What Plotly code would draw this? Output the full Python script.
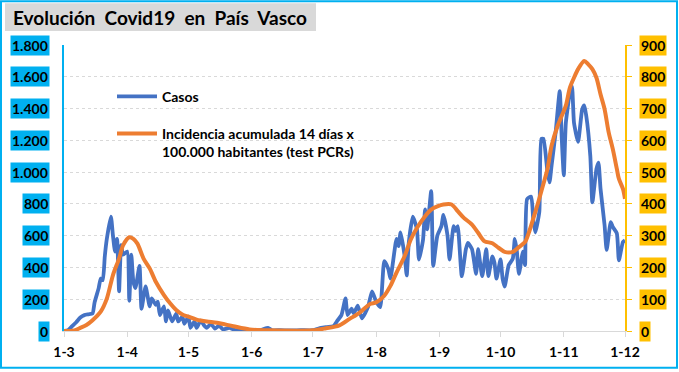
import plotly.graph_objects as go

# ---------------- data ----------------
casos_fechas = [
    "2020-03-01", "2020-03-03", "2020-03-05", "2020-03-07", "2020-03-09", "2020-03-11", "2020-03-13",
    "2020-03-15", "2020-03-16", "2020-03-18", "2020-03-19", "2020-03-20", "2020-03-21", "2020-03-22",
    "2020-03-24", "2020-03-25", "2020-03-26", "2020-03-27", "2020-03-28", "2020-03-29", "2020-03-30",
    "2020-04-01", "2020-04-02", "2020-04-03", "2020-04-04", "2020-04-05", "2020-04-07", "2020-04-08",
    "2020-04-10", "2020-04-12", "2020-04-13", "2020-04-15", "2020-04-16", "2020-04-17", "2020-04-19",
    "2020-04-20", "2020-04-21", "2020-04-23", "2020-04-25", "2020-04-26", "2020-04-28", "2020-04-29",
    "2020-05-01", "2020-05-02", "2020-05-04", "2020-05-05", "2020-05-07", "2020-05-09", "2020-05-10",
    "2020-05-12", "2020-05-14", "2020-05-16", "2020-05-18", "2020-05-21", "2020-05-24", "2020-05-28",
    "2020-06-01", "2020-06-05", "2020-06-09", "2020-06-11", "2020-06-15", "2020-06-20", "2020-06-25",
    "2020-07-01", "2020-07-05", "2020-07-08", "2020-07-11", "2020-07-13", "2020-07-15", "2020-07-17",
    "2020-07-18", "2020-07-20", "2020-07-21", "2020-07-23", "2020-07-25", "2020-07-28", "2020-07-30",
    "2020-08-01", "2020-08-03", "2020-08-05", "2020-08-07", "2020-08-08", "2020-08-11", "2020-08-12",
    "2020-08-13", "2020-08-15", "2020-08-16", "2020-08-17", "2020-08-19", "2020-08-21", "2020-08-22",
    "2020-08-24", "2020-08-25", "2020-08-26", "2020-08-28", "2020-08-29", "2020-08-31", "2020-09-02",
    "2020-09-03", "2020-09-05", "2020-09-06", "2020-09-08", "2020-09-09", "2020-09-10", "2020-09-12",
    "2020-09-14", "2020-09-15", "2020-09-17", "2020-09-19", "2020-09-20", "2020-09-22", "2020-09-24",
    "2020-09-25", "2020-09-27", "2020-09-28", "2020-09-29", "2020-10-01", "2020-10-02", "2020-10-03",
    "2020-10-05", "2020-10-07", "2020-10-08", "2020-10-09", "2020-10-10", "2020-10-12", "2020-10-13",
    "2020-10-14", "2020-10-16", "2020-10-17", "2020-10-18", "2020-10-20", "2020-10-21", "2020-10-22",
    "2020-10-24", "2020-10-25", "2020-10-26", "2020-10-28", "2020-10-30", "2020-10-31", "2020-11-01",
    "2020-11-02", "2020-11-04", "2020-11-05", "2020-11-06", "2020-11-08", "2020-11-10", "2020-11-11",
    "2020-11-12", "2020-11-14", "2020-11-15", "2020-11-17", "2020-11-18", "2020-11-19", "2020-11-21",
    "2020-11-22", "2020-11-24", "2020-11-25", "2020-11-27", "2020-11-28", "2020-11-30", "2020-12-01",
]
casos_valores = [
    0, 5, 30, 55, 85, 100, 105,
    110, 180, 270, 330, 320, 470, 580,
    720, 600, 500, 580, 250, 540, 480,
    500, 190, 480, 310, 270, 410, 140,
    280, 155, 205, 165, 185, 100, 155,
    60, 130, 60, 110, 60, 90, 45,
    90, 20, 60, 20, 65, 30, 20,
    45, 15, 35, 10, 20, 5, 10,
    3, 5, 20, 5, 5, 3, 5,
    5, 20, 25, 30, 65, 100, 205,
    100, 140, 110, 160, 80, 150, 250,
    185, 150, 440, 390, 330, 580, 535,
    620, 470, 350, 555, 720, 640, 450,
    575, 765, 640, 880, 410, 600, 660,
    730, 600, 450, 660, 630, 660, 345,
    515, 555, 515, 360, 515, 345, 515,
    345, 470, 430, 330, 450, 330, 280,
    415, 455, 580, 500, 360, 500, 415,
    830, 845, 705, 620, 750, 1210, 1210,
    1000, 935, 1040, 1250, 1510, 1210, 980,
    1310, 1500, 1540, 1310, 1190, 1395, 1420,
    1355, 1100, 810, 1020, 1060, 895, 665,
    510, 685, 655, 615, 445, 560, 570,
]

incidencia_fechas = [
    "2020-03-01", "2020-03-06", "2020-03-09", "2020-03-12", "2020-03-15", "2020-03-19", "2020-03-22",
    "2020-03-25", "2020-03-28", "2020-03-30", "2020-04-02", "2020-04-04", "2020-04-06", "2020-04-09",
    "2020-04-12", "2020-04-15", "2020-04-19", "2020-04-22", "2020-04-25", "2020-04-28", "2020-05-01",
    "2020-05-05", "2020-05-10", "2020-05-15", "2020-05-23", "2020-05-31", "2020-06-10", "2020-07-01",
    "2020-07-07", "2020-07-14", "2020-07-19", "2020-07-24", "2020-07-29", "2020-08-01", "2020-08-05",
    "2020-08-08", "2020-08-11", "2020-08-15", "2020-08-18", "2020-08-21", "2020-08-25", "2020-08-28",
    "2020-08-31", "2020-09-03", "2020-09-07", "2020-09-10", "2020-09-13", "2020-09-17", "2020-09-20",
    "2020-09-23", "2020-09-27", "2020-09-30", "2020-10-03", "2020-10-07", "2020-10-10", "2020-10-13",
    "2020-10-15", "2020-10-17", "2020-10-19", "2020-10-21", "2020-10-24", "2020-10-26", "2020-10-29",
    "2020-10-31", "2020-11-02", "2020-11-04", "2020-11-06", "2020-11-08", "2020-11-11", "2020-11-13",
    "2020-11-15", "2020-11-17", "2020-11-19", "2020-11-21", "2020-11-23", "2020-11-25", "2020-11-27",
    "2020-11-28", "2020-11-30", "2020-12-01",
]
incidencia_valores = [
    0, 2, 10, 19, 34, 61, 102,
    176, 228, 270, 295, 290, 275, 228,
    197, 155, 113, 87, 66, 52, 45,
    36, 30, 26, 15, 5, 2, 2,
    8, 18, 38, 58, 85, 90, 111,
    142, 184, 236, 288, 324, 361, 382,
    392, 398, 398, 377, 356, 335, 309,
    283, 276, 262, 249, 249, 264, 280,
    312, 353, 395, 440, 510, 583, 646,
    677, 709, 766, 797, 824, 850, 839,
    824, 797, 745, 698, 625, 573, 510,
    479, 447, 416,
]

x_ticks = ["2020-03-01", "2020-04-01", "2020-05-01", "2020-06-01", "2020-07-01",
           "2020-08-01", "2020-09-01", "2020-10-01", "2020-11-01", "2020-12-01"]
x_tick_labels = ["1-3", "1-4", "1-5", "1-6", "1-7", "1-8", "1-9", "1-10", "1-11", "1-12"]
y_left_ticks = [0, 200, 400, 600, 800, 1000, 1200, 1400, 1600, 1800]
y_left_labels = ["0", "200", "400", "600", "800", "1.000", "1.200", "1.400", "1.600", "1.800"]
y_right_ticks = [0, 100, 200, 300, 400, 500, 600, 700, 800, 900]
y_right_labels = ["0", "100", "200", "300", "400", "500", "600", "700", "800", "900"]

titulo = "Evolución  Covid19  en  País  Vasco"
nombre_casos = "Casos"
nombre_incidencia = "Incidencia acumulada 14 días x<br>100.000 habitantes (test PCRs)"

# ---------------- layout helpers ----------------
W, H = 679, 372
ML, MR, MT, MB = 64, 54, 45, 39
PW = W - ML - MR
PH = H - MT - MB
FONT = "Lato"


def px(xp):
    return (xp - ML) / PW


def py(yp):
    return (H - MB - yp) / PH


fig = go.Figure()
fig.add_trace(go.Scatter(
    x=casos_fechas, y=casos_valores, name=nombre_casos, mode="lines",
    line=dict(color="#4472C4", width=3.8, shape="spline", smoothing=0.5),
    legendgroup="a", yaxis="y",
))
fig.add_trace(go.Scatter(
    x=incidencia_fechas, y=incidencia_valores, name=nombre_incidencia, mode="lines",
    line=dict(color="#ED7D31", width=4, shape="spline", smoothing=0.8),
    legendgroup="b", yaxis="y2",
))

annotations = []
for v, t in zip(y_left_ticks, y_left_labels):
    annotations.append(dict(
        xref="paper", yref="y", x=px(50), y=v, xanchor="right", yanchor="middle",
        text=t, showarrow=False, bgcolor="#00B0F0", borderpad=1,
        font=dict(family=FONT, size=14, color="black", weight="bold"),
    ))
for v, t in zip(y_right_ticks, y_right_labels):
    annotations.append(dict(
        xref="paper", yref="y2", x=px(639), y=v, xanchor="left", yanchor="middle",
        text=t, showarrow=False, bgcolor="#FFC000", borderpad=1,
        font=dict(family=FONT, size=14, color="black", weight="bold"),
    ))
annotations.append(dict(
    xref="paper", yref="paper", x=px(11), y=py(17), xanchor="left", yanchor="middle",
    text=titulo, showarrow=False,
    font=dict(family=FONT, size=19, color="black", weight="bold"),
))

shapes = [
    dict(type="rect", xref="paper", yref="paper", x0=px(5), x1=px(316), y0=py(31), y1=py(3),
         fillcolor="#D9D9D9", line=dict(width=0), layer="below"),
    dict(type="rect", xref="paper", yref="paper", x0=px(1), x1=px(677), y0=py(370), y1=py(1),
         fillcolor="rgba(0,0,0,0)", line=dict(color="#00B0F0", width=2), layer="above"),
]

fig.update_layout(
    width=W, height=H,
    margin=dict(l=ML, r=MR, t=MT, b=MB, pad=0),
    paper_bgcolor="white", plot_bgcolor="white",
    font=dict(family=FONT, size=14, color="black"),
    showlegend=True,
    legend=dict(
        x=px(112), y=py(81), xanchor="left", yanchor="top",
        bgcolor="rgba(0,0,0,0)", valign="top", tracegroupgap=16, itemwidth=40,
        font=dict(family=FONT, size=14, color="black", weight="bold"),
    ),
    xaxis=dict(
        type="date", range=["2020-03-01", "2020-12-01"],
        tickvals=x_ticks, ticktext=x_tick_labels,
        showgrid=False, zeroline=False,
        showline=True, linecolor="#D9D9D9", linewidth=1,
        ticks="outside", ticklen=5, tickcolor="#D9D9D9",
        ticklabelstandoff=3,
        tickfont=dict(family=FONT, size=14, color="black", weight="bold"),
    ),
    yaxis=dict(
        range=[0, 1800], tickvals=y_left_ticks, showticklabels=False,
        showgrid=True, gridcolor="#D9D9D9", griddash="dot", gridwidth=1,
        zeroline=False, showline=True, linecolor="#00B0F0", linewidth=2, ticks="",
    ),
    yaxis2=dict(
        range=[0, 900], tickvals=y_right_ticks, showticklabels=False,
        overlaying="y", side="right", showgrid=False, zeroline=False,
        showline=True, linecolor="#FFC000", linewidth=2,
        ticks="outside", ticklen=5, tickcolor="#FFC000",
    ),
    annotations=annotations,
    shapes=shapes,
)

fig.write_html("out.html", config={"displayModeBar": False},
               post_script="document.body.style.margin='0';")
